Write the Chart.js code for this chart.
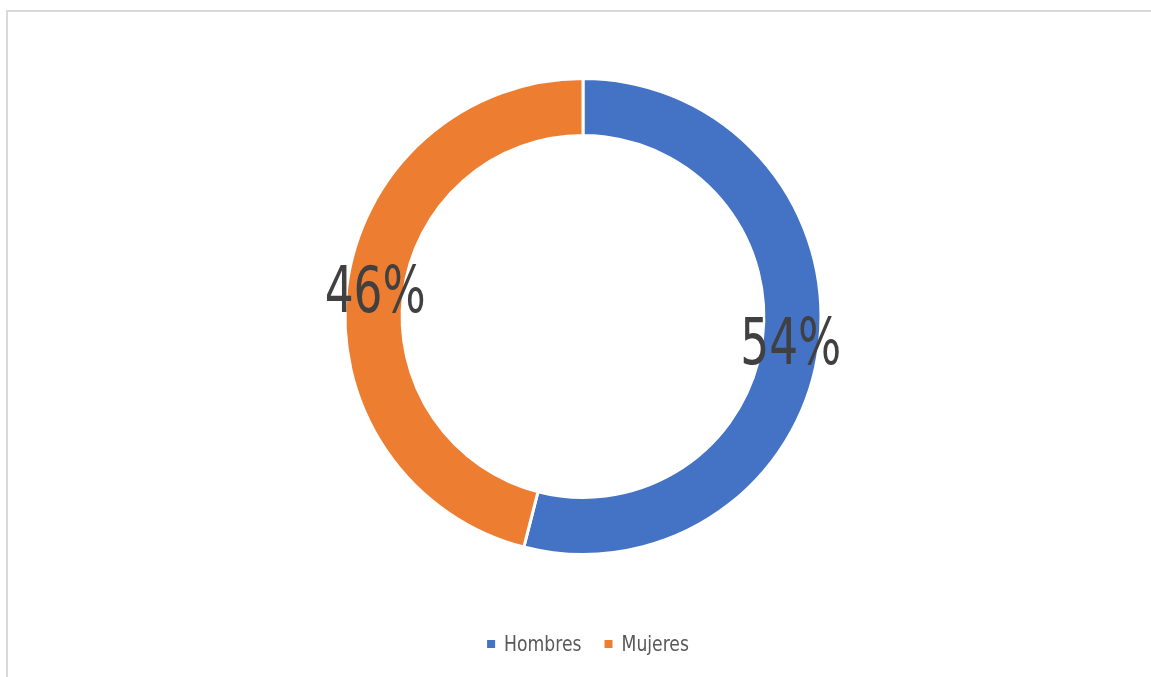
<!DOCTYPE html>
<html>
<head>
<meta charset="utf-8">
<script src="https://cdn.jsdelivr.net/npm/chart.js@4.4.1/dist/chart.umd.min.js"></script>
<style>
    html, body { margin: 0; padding: 0; background: #fff; }
    #wrap { position: relative; width: 1151px; height: 677px; overflow: hidden; }
    #frame { position: absolute; left: 6px; top: 10px; width: 1300px; height: 800px;
             border-top: 2px solid #d9d9d9; border-left: 2px solid #d9d9d9; }
    #chartBox { position: absolute; left: 0; top: 0; width: 1151px; height: 677px; }
</style>
</head>
<body>
<div id="wrap">
    <div id="frame"></div>
    <div id="chartBox"><canvas id="genderChart"></canvas></div>
</div>
<script>
var categories = ['Hombres', 'Mujeres'];
var shares = [54, 46];
var colors = ['#4472C4', '#ED7D31'];

var narrowFont = '"Liberation Sans Narrow", "DejaVu Sans Condensed", Roboto, sans-serif';

// percentage labels centred on each ring segment, squeezed to a narrow face
var ringLabels = {
    id: 'ringLabels',
    afterDatasetsDraw(chart) {
        var ctx = chart.ctx;
        var meta = chart.getDatasetMeta(0);
        ctx.save();
        ctx.fillStyle = '#404040';
        ctx.font = '64px ' + narrowFont;
        ctx.textAlign = 'center';
        ctx.textBaseline = 'middle';
        meta.data.forEach((arc, i) => {
            var p = arc.getCenterPoint();
            ctx.save();
            ctx.translate(p.x, p.y);
            ctx.scale(0.79, 1);
            ctx.fillText(shares[i] + '%', 0, 5);
            ctx.restore();
        });
        ctx.restore();
    }
};

// legend under the ring, drawn by hand so it can sit low like the original
var bottomLegend = {
    id: 'bottomLegend',
    afterDraw(chart) {
        var ctx = chart.ctx;
        var area = chart.chartArea;
        var labels = chart.data.labels;
        var fills = chart.data.datasets[0].backgroundColor;
        var squeeze = 0.87;
        var box = 8, gap = 9, itemGap = 23;
        ctx.save();
        ctx.font = '22px ' + narrowFont;
        ctx.textBaseline = 'middle';
        var widths = labels.map(t => ctx.measureText(t).width * squeeze);
        var total = widths.reduce((a, w) => a + box + gap + w, 0) + itemGap * (labels.length - 1);
        var x = (area.left + area.right) / 2 + 5 - total / 2;
        var y = area.bottom + 88;
        labels.forEach((t, i) => {
            ctx.fillStyle = fills[i];
            ctx.fillRect(x, y - box / 2, box, box);
            x += box + gap;
            ctx.save();
            ctx.translate(x, y);
            ctx.scale(squeeze, 1);
            ctx.fillStyle = '#595959';
            ctx.fillText(t, 0, 1);
            ctx.restore();
            x += widths[i] + itemGap;
        });
        ctx.restore();
    }
};

var ctx = document.getElementById('genderChart').getContext('2d');
var genderChart = new Chart(ctx, {
    type: 'doughnut',
    data: {
        labels: categories,
        datasets: [{
            data: shares,
            backgroundColor: colors,
            borderColor: '#ffffff',
            borderWidth: 3,
            hoverOffset: 0
        }]
    },
    options: {
        responsive: true,
        maintainAspectRatio: false,
        animation: false,
        cutout: '76%',
        layout: { padding: { top: 77, bottom: 121, left: 15, right: 0 } },
        plugins: {
            tooltip: { enabled: false },
            legend: { display: false }
        }
    },
    plugins: [ringLabels, bottomLegend]
});
</script>
</body>
</html>
